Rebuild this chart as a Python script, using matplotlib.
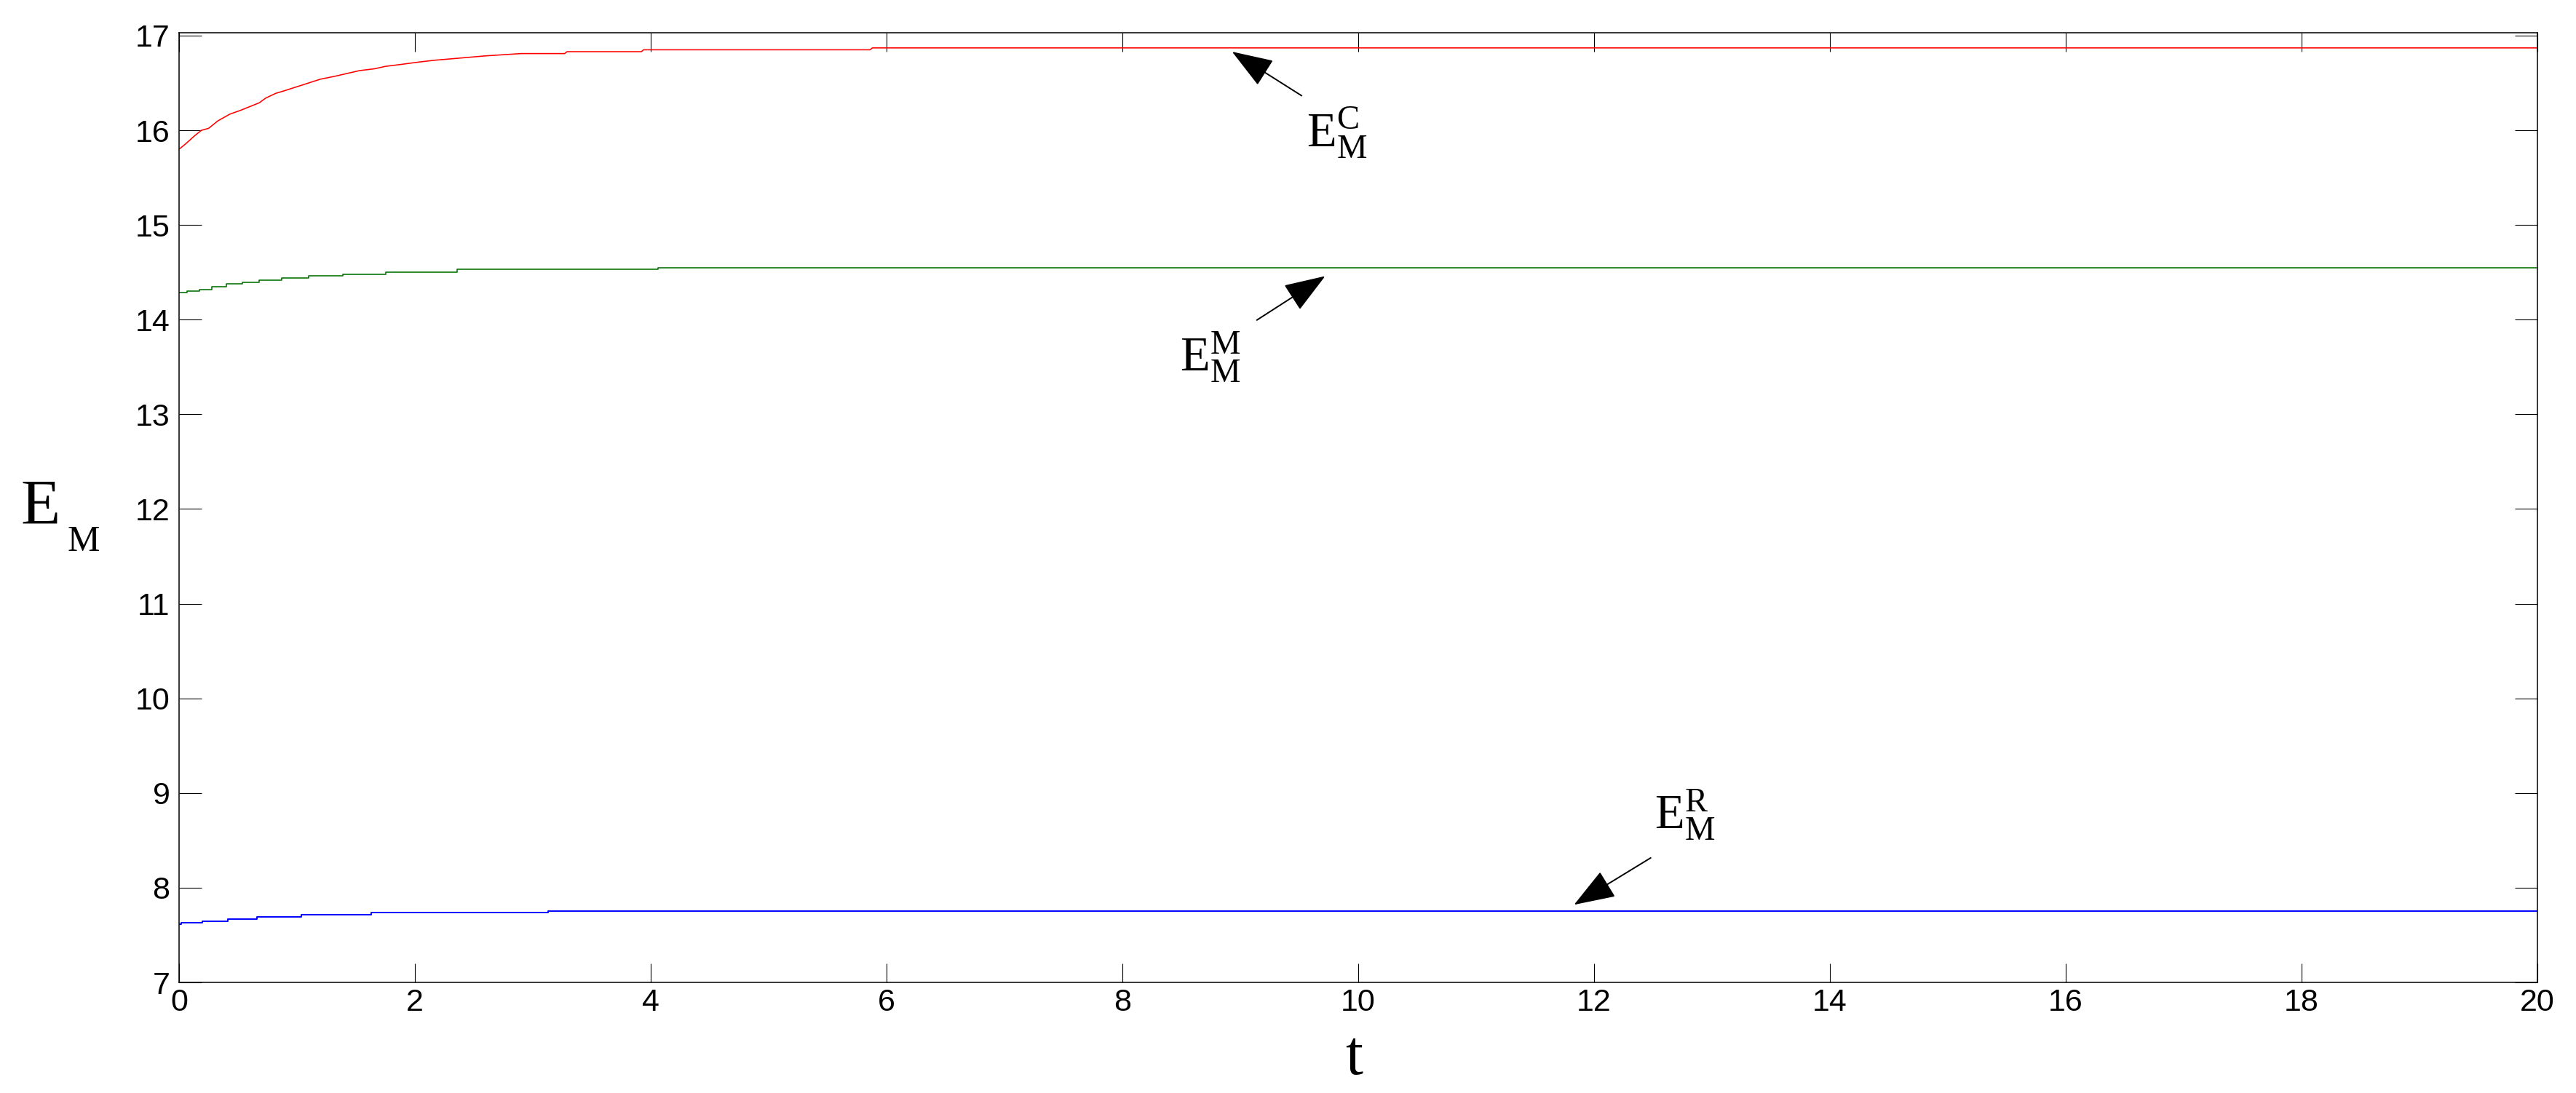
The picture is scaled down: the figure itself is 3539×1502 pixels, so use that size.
import matplotlib
matplotlib.use("Agg")
import matplotlib.pyplot as plt

plt.rcParams['font.family'] = ['Liberation Sans', 'DejaVu Sans']
plt.rcParams['mathtext.fontset'] = 'custom'
plt.rcParams['mathtext.rm'] = 'Liberation Serif'
plt.rcParams['mathtext.it'] = 'Liberation Serif:italic'
plt.rcParams['mathtext.bf'] = 'Liberation Serif:bold'

# ---- data ----
t_red = [0.00, 0.04, 0.086, 0.13, 0.19, 0.25, 0.33, 0.43, 0.52, 0.60, 0.68, 0.735,
         0.82, 0.90, 1.00, 1.10, 1.20, 1.32, 1.39, 1.53, 1.66, 1.75, 1.88, 2.03,
         2.17, 2.36, 2.59, 2.90, 3.27, 3.29, 3.92, 3.94, 5.86, 5.88, 20.0]
e_red = [15.80, 15.84, 15.89, 15.94, 16.00, 16.02, 16.10, 16.17, 16.21, 16.25, 16.29, 16.34,
         16.39, 16.42, 16.46, 16.50, 16.54, 16.57, 16.59, 16.63, 16.65, 16.675, 16.695, 16.72,
         16.74, 16.76, 16.785, 16.81, 16.81, 16.83, 16.83, 16.85, 16.85, 16.87, 16.87]

t_green = [0.00, 0.067, 0.175, 0.28, 0.40, 0.54, 0.68, 0.87, 1.10, 1.39, 1.75, 2.36, 4.06, 20.0]
e_green = [14.285, 14.30, 14.32, 14.35, 14.375, 14.39, 14.415, 14.44, 14.46, 14.48, 14.505, 14.53, 14.55, 14.55]

t_blue = [0.00, 0.02, 0.20, 0.415, 0.66, 1.04, 1.63, 3.13, 20.0]
e_blue = [7.615, 7.628, 7.646, 7.669, 7.692, 7.715, 7.735, 7.756, 7.756]

y_ticks = [7, 8, 9, 10, 11, 12, 13, 14, 15, 16, 17]
x_ticks = [0, 2, 4, 6, 8, 10, 12, 14, 16, 18, 20]

# annotations: (label, arrow tip, arrow tail, text anchor)
ann_labels = [r'$\mathrm{E}_{\mathrm{M}}^{\mathrm{C}}$',
              r'$\mathrm{E}_{\mathrm{M}}^{\mathrm{M}}$',
              r'$\mathrm{E}_{\mathrm{M}}^{\mathrm{R}}$']
ann_tip = [(8.93, 16.83), (9.72, 14.46), (11.83, 7.82)]
ann_tail = [(9.52, 16.365), (9.14, 13.995), (12.48, 8.315)]
ann_text = [(9.56, 15.82), (8.49, 13.456), (12.51, 8.62)]

W, H = 3539, 1502
fig = plt.figure(figsize=(W / 100, H / 100), dpi=100)
ax = fig.add_axes([246 / W, 1 - 1350 / H, (3486 - 246) / W, (1350 - 45) / H])

ax.plot(t_red, e_red, color='#ff0000', lw=1.15)
ax.plot(t_green, e_green, color='#007000', lw=1.15, drawstyle='steps-post')
ax.plot(t_blue, e_blue, color='#0000ff', lw=1.4, drawstyle='steps-post')

ax.set_xlim(0, 20)
ax.set_ylim(7, 17.03)
ax.set_xticks(x_ticks)
ax.set_yticks(y_ticks)
ax.set_xticklabels([str(v) for v in x_ticks])
ax.set_yticklabels([str(v) for v in y_ticks])

ax.tick_params(axis='both', direction='in', top=True, right=True, width=0.8,
               labelsize=31, colors='k')
ax.tick_params(axis='y', length=22, pad=9)
ax.tick_params(axis='x', length=19, pad=6)
for s in ax.spines.values():
    s.set_linewidth(1.1)

for lab, tip, tail, tx in zip(ann_labels, ann_tip, ann_tail, ann_text):
    ax.annotate('', xy=tip, xytext=tail,
                arrowprops=dict(arrowstyle='-|>,head_length=36,head_width=13',
                                mutation_scale=1, lw=1.4, color='k',
                                shrinkA=0, shrinkB=0))
    ax.text(tx[0], tx[1], lab, fontsize=48, ha='left', va='baseline')

# axis labels
fig.text(1860 / W, 1 - 1476 / H, 't', fontsize=62, family='Liberation Serif',
         ha='center', va='baseline')
fig.text(28 / W, 1 - 720 / H, 'E', fontsize=64, family='Liberation Serif',
         ha='left', va='baseline')
fig.text(92 / W, 1 - 757 / H, 'M', fontsize=36, family='Liberation Serif',
         ha='left', va='baseline')

fig.savefig('out.png', dpi=100, facecolor='white')
